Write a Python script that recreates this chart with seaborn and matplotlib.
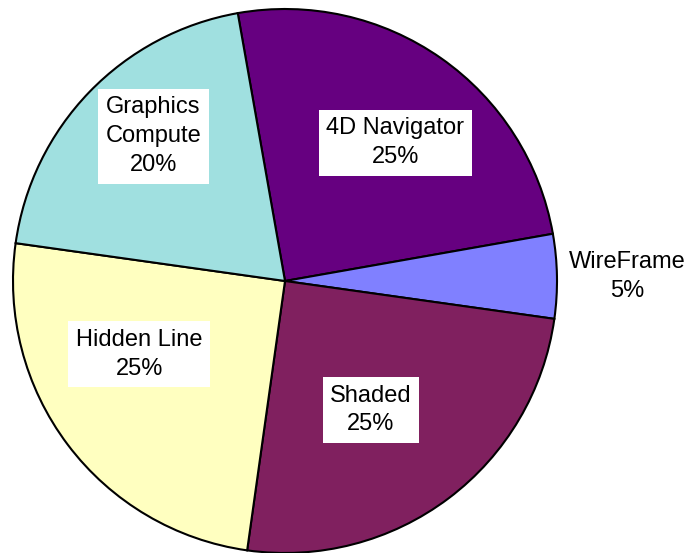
import matplotlib
matplotlib.use("Agg")
import matplotlib.pyplot as plt
import seaborn as sns
import numpy as np

# Rendering-mode shares, clockwise from the top
categories = ["4D Navigator", "WireFrame", "Shaded", "Hidden Line", "Graphics\nCompute"]
shares = [25, 5, 25, 25, 20]
slice_colors = ["#660080", "#8080FF", "#80205F", "#FFFFC0", "#A0E0E0"]

# Label placement: (angle clockwise from top in degrees, radius as fraction of pie radius)
label_polar = [(38.6, 0.65), (89.3, 1.26), (146.3, 0.57), (243.3, 0.60), (317.7, 0.72)]
label_boxed = [True, False, True, True, True]

sns.set_theme(style="white")
plt.rcParams["font.family"] = ["Liberation Sans", "DejaVu Sans"]

fig = plt.figure(figsize=(6.89, 5.53), dpi=100)
ax = fig.add_axes([13 / 689, 0 / 553, 544 / 689, 544 / 553])

palette = sns.color_palette(slice_colors)
wedges, _ = ax.pie(
    shares,
    colors=palette,
    startangle=100,
    counterclock=False,
    radius=1.0,
    wedgeprops=dict(edgecolor="black", linewidth=1.5),
)
for w in wedges:
    w.set_clip_on(False)

total = sum(shares)
for name, val, (ang, r), boxed in zip(categories, shares, label_polar, label_boxed):
    a = np.deg2rad(ang)
    x, y = r * np.sin(a), r * np.cos(a)
    txt = f"{name}\n{round(100 * val / total)}%"
    kw = {}
    if boxed:
        kw["bbox"] = dict(boxstyle="square,pad=0.32", facecolor="white", edgecolor="none")
    ax.text(x, y, txt, ha="center", va="center", fontsize=17,
            color="black", linespacing=1.4, multialignment="center", **kw)

ax.set_xlim(-1, 1)
ax.set_ylim(-1, 1)
ax.set_aspect("equal")
ax.axis("off")

fig.savefig("out.png", dpi=100)
